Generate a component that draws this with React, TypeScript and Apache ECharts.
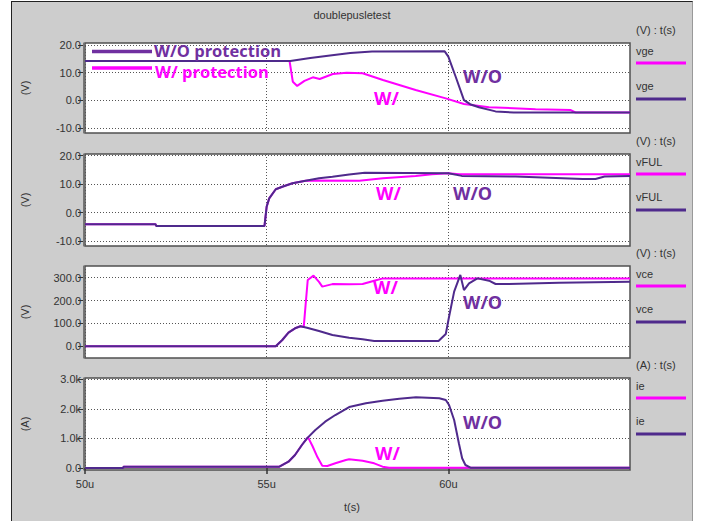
import React, { useEffect, useRef } from "react";
import * as echarts from "echarts";

// ---- time axis (microseconds) ----
const T_MIN = 50;
const T_MAX = 65;
const T_TICKS = [50, 55, 60];

// ---- panel 1: vge ----
const VGE_TICKS = [-10, 0, 10, 20];
const vgeWoT = [50, 55.65, 56.2, 56.8, 57.3, 57.9, 59.9, 60.0, 60.2, 60.43, 60.6, 60.84, 61.3, 61.8, 65];
const vgeWoV = [14.2, 14.2, 15.3, 16.3, 17.1, 17.6, 17.7, 15.8, 8.6, 0.1, -1.4, -2.5, -4.0, -4.4, -4.4];
const vgeWT = [50, 55.63, 55.72, 55.84, 56.04, 56.27, 56.46, 56.82, 57.2, 57.64, 58.2, 59.1, 59.93, 60.43, 61.12, 62.4, 63.37, 63.5, 65];
const vgeWV = [14.2, 14.2, 6.7, 5.2, 7.0, 8.3, 7.7, 9.5, 10.0, 9.8, 7.35, 3.7, 0.7, -1.3, -2.5, -3.2, -3.5, -4.4, -4.4];

// ---- panel 2: vFUL ----
const VFUL_TICKS = [-10, 0, 10, 20];
const vfulWoT = [50, 51.94, 51.96, 54.94, 55.0, 55.07, 55.25, 55.43, 55.71, 56.07, 56.44, 56.81, 57.27, 57.7, 60.0, 60.37, 61.85, 63.7, 64.05, 64.3, 65];
const vfulWoV = [-4.1, -4.1, -4.7, -4.7, 2.1, 5.0, 8.2, 9.1, 10.3, 11.2, 12.05, 12.6, 13.4, 14.0, 13.8, 12.9, 12.7, 11.8, 11.8, 12.7, 12.9];
const vfulWT = [50, 51.94, 51.96, 54.94, 55.0, 55.07, 55.25, 55.43, 55.71, 56.07, 56.3, 57.55, 58.2, 59.1, 59.55, 60.0, 60.3, 65];
const vfulWV = [-4.1, -4.1, -4.7, -4.7, 2.1, 5.0, 8.2, 9.1, 10.3, 11.2, 11.3, 11.2, 12.05, 12.86, 13.45, 13.8, 13.45, 13.45];

// ---- panel 3: vce ----
const VCE_TICKS = [0, 100, 200, 300];
const vceWoT = [50, 55.25, 55.43, 55.6, 55.78, 55.93, 56.11, 56.44, 56.81, 57.27, 57.64, 57.96, 59.73, 59.93, 60.02, 60.16, 60.33, 60.43, 60.57, 60.8, 61.12, 61.3, 61.67, 63.05, 65];
const vceWoV = [0, 0, 27.5, 59.6, 78.7, 87.5, 81.4, 66.9, 49.4, 37.6, 30.6, 23.2, 23, 53.8, 129, 239, 312, 246, 275.5, 297, 287, 272.5, 272.5, 278, 282.5];
const vceWT = [50, 55.25, 55.43, 55.6, 55.78, 55.93, 56.02, 56.06, 56.13, 56.29, 56.44, 56.53, 56.81, 57.27, 57.64, 57.96, 58.2, 65];
const vceWV = [0, 0, 27.5, 59.6, 78.7, 87.5, 84, 159, 290, 309, 282, 261, 272, 271, 272.5, 287, 297, 297];

// ---- panel 4: ie ----
const IE_TICKS = [0, 1000, 2000, 3000];
const ieWoT = [50, 51.05, 51.06, 55.35, 55.6, 55.78, 55.97, 56.11, 56.34, 56.61, 56.89, 57.27, 57.73, 58.19, 58.65, 59.11, 59.75, 59.93, 60.02, 60.16, 60.29, 60.38, 60.47, 60.61, 65];
const ieWoV = [0, 0, 40, 45, 213, 440, 778, 1003, 1285, 1567, 1792, 2060, 2187, 2277, 2344, 2390, 2356, 2300, 2130, 1623, 835, 328, 101, 11, 10];
const ieWT = [50, 51.05, 51.06, 55.35, 55.6, 55.78, 55.97, 56.11, 56.14, 56.26, 56.4, 56.53, 56.67, 56.89, 57.18, 57.27, 57.64, 57.96, 58.19, 58.37, 65];
const ieWV = [0, 0, 40, 45, 213, 440, 778, 1003, 1037, 744, 361, 79, 68, 158, 270, 293, 248, 158, 45, 11, 10];

const PURPLE_LINE = "#4f2a8c";
const PURPLE_TEXT = "#7030a0";
const MAGENTA = "#ff00ff";
const LABEL_FONT = "'Liberation Sans', Arial, sans-serif";
const NOTE_FONT = "'Open Sans', 'DejaVu Sans', sans-serif";

const pairs = (t: number[], v: number[]) => t.map((x, i) => [x, v[i]]);

interface Panel {
  top: number;
  height: number;
  min: number;
  max: number;
  ticks: number[];
  fmt: (v: number) => string;
  unit: string;
  sig: string;
  wT: number[];
  wV: number[];
  woT: number[];
  woV: number[];
}

const fmtV = (v: number) => v.toFixed(1);
const fmtA = (v: number) => (v === 0 ? "0.0" : (v / 1000).toFixed(1) + "k");

const panels: Panel[] = [
  { top: 43, height: 90, min: -11.8, max: 20.7, ticks: VGE_TICKS, fmt: fmtV, unit: "(V)", sig: "vge", wT: vgeWT, wV: vgeWV, woT: vgeWoT, woV: vgeWoV },
  { top: 154, height: 92, min: -11.76, max: 20.6, ticks: VFUL_TICKS, fmt: fmtV, unit: "(V)", sig: "vFUL", wT: vfulWT, wV: vfulWV, woT: vfulWoT, woV: vfulWoV },
  { top: 266, height: 92, min: -51.2, max: 351.2, ticks: VCE_TICKS, fmt: fmtV, unit: "(V)", sig: "vce", wT: vceWT, wV: vceWV, woT: vceWoT, woV: vceWoV },
  { top: 378, height: 92, min: -68, max: 3044, ticks: IE_TICKS, fmt: fmtA, unit: "(A)", sig: "ie", wT: ieWT, wV: ieWV, woT: ieWoT, woV: ieWoV },
];

const GRID_LEFT = 85;
const GRID_WIDTH = 545;

export default function App() {
  const ref = useRef<HTMLDivElement>(null);

  useEffect(() => {
    if (!ref.current) return;
    const chart = echarts.init(ref.current, undefined, { renderer: "svg" });
    const last = panels.length - 1;
    const dotted = { type: [1, 2] as number[], color: "#555", width: 1 };

    const grid = panels.map((p) => ({
      left: GRID_LEFT,
      top: p.top,
      width: GRID_WIDTH,
      height: p.height,
      show: true,
      backgroundColor: "#ffffff",
      borderColor: "#505050",
      borderWidth: 1.5,
    }));

    const xAxis = panels.map((_, i) => ({
      gridIndex: i,
      type: "value",
      min: T_MIN,
      max: T_MAX,
      offset: 3,
      axisLine: { show: i === last, lineStyle: { color: "#777", width: 1 } },
      axisTick: { show: i === last, customValues: T_TICKS, length: 6, lineStyle: { color: "#333", width: 1.5 } },
      axisLabel: {
        show: i === last,
        customValues: T_TICKS,
        formatter: (v: number) => v + "u",
        margin: 5,
        fontSize: 11,
        color: "#333",
        fontFamily: LABEL_FONT,
      },
      splitLine: { show: true, lineStyle: dotted },
    }));

    const yAxis = panels.map((p, i) => ({
      gridIndex: i,
      type: "value",
      min: p.min,
      max: p.max,
      offset: 2,
      axisLine: { show: true, lineStyle: { color: "#777", width: 1 } },
      axisTick: { show: true, customValues: p.ticks, length: 5, lineStyle: { color: "#333" } },
      axisLabel: {
        customValues: p.ticks,
        formatter: p.fmt,
        margin: 2,
        fontSize: 11,
        color: "#333",
        fontFamily: LABEL_FONT,
      },
      splitLine: { show: true, lineStyle: dotted },
    }));

    const series: any[] = [];
    panels.forEach((p, i) => {
      series.push({
        type: "line",
        name: p.sig + " W/",
        xAxisIndex: i,
        yAxisIndex: i,
        data: pairs(p.wT, p.wV),
        showSymbol: false,
        lineStyle: { color: MAGENTA, width: 2 },
        z: 2,
      });
      series.push({
        type: "line",
        name: p.sig + " W/O",
        xAxisIndex: i,
        yAxisIndex: i,
        data: pairs(p.woT, p.woV),
        showSymbol: false,
        lineStyle: { color: PURPLE_LINE, width: 2 },
        z: 3,
      });
    });

    const labelText = (x: number, y: number, text: string, extra: any = {}) => ({
      type: "text",
      x,
      y,
      style: { text, fill: "#333", font: `11px ${LABEL_FONT}`, textVerticalAlign: "middle", ...extra },
    });
    const note = (x: number, y: number, text: string, color: string) => ({
      type: "text",
      x,
      y,
      z: 10,
      style: { text, fill: color, font: `bold 18px ${NOTE_FONT}`, lineHeight: 18, textVerticalAlign: "middle" },
    });
    const seg = (x1: number, x2: number, y: number, color: string, w: number) => ({
      type: "line",
      z: 10,
      shape: { x1, y1: y, x2, y2: y },
      style: { stroke: color, lineWidth: w },
    });

    const graphic: any[] = [
      labelText(352, 15, "doublepusletest", { textAlign: "center" }),
      labelText(352, 507, "t(s)", { textAlign: "center" }),
    ];

    panels.forEach((p) => {
      const cy = p.top + p.height / 2;
      graphic.push({
        type: "text",
        x: 25,
        y: cy,
        rotation: Math.PI / 2,
        style: { text: p.unit, fill: "#333", font: `11px ${LABEL_FONT}`, textAlign: "center", textVerticalAlign: "middle" },
      });
      graphic.push(labelText(636, p.top - 13, p.unit + " : t(s)"));
      graphic.push(labelText(636, p.top + 8, p.sig));
      graphic.push(seg(636, 686, p.top + 20, MAGENTA, 3));
      graphic.push(labelText(636, p.top + 43, p.sig));
      graphic.push(seg(636, 686, p.top + 56, PURPLE_LINE, 3));
    });

    // key inside the top panel
    graphic.push(seg(92, 152, 51.5, PURPLE_TEXT, 3.5));
    graphic.push(seg(92, 152, 68, MAGENTA, 3.5));
    graphic.push({
      type: "text", x: 154, y: 50, z: 10,
      style: { text: "W/O protection", fill: PURPLE_TEXT, font: `bold 16.5px ${NOTE_FONT}`, lineHeight: 16, textVerticalAlign: "middle" },
    });
    graphic.push({
      type: "text", x: 155, y: 71, z: 10,
      style: { text: "W/ protection", fill: MAGENTA, font: `bold 16.5px ${NOTE_FONT}`, lineHeight: 16, textVerticalAlign: "middle" },
    });

    // W/ and W/O tags on each panel
    graphic.push(note(463, 76, "W/O", PURPLE_TEXT));
    graphic.push(note(374, 97.5, "W/", MAGENTA));
    graphic.push(note(376, 193, "W/", MAGENTA));
    graphic.push(note(453, 193, "W/O", PURPLE_TEXT));
    graphic.push(note(373, 287, "W/", MAGENTA));
    graphic.push(note(463, 302, "W/O", PURPLE_TEXT));
    graphic.push(note(463, 422, "W/O", PURPLE_TEXT));
    graphic.push(note(375, 453, "W/", MAGENTA));

    chart.setOption({
      animation: false,
      grid,
      xAxis,
      yAxis,
      series,
      graphic,
    });

    return () => chart.dispose();
  }, []);

  return (
    <div style={{ position: "fixed", left: 0, top: 0, width: 702, height: 521, background: "#ffffff" }}>
      <div
        style={{
          position: "absolute",
          left: 11,
          top: 1,
          width: 680,
          height: 521,
          background: "#cdcdcd",
          borderLeft: "1px solid #222",
          borderTop: "1px solid #222",
          borderRight: "1px solid #999",
        }}
      />
      <div ref={ref} style={{ position: "absolute", left: 0, top: 0, width: 702, height: 521 }} />
    </div>
  );
}
